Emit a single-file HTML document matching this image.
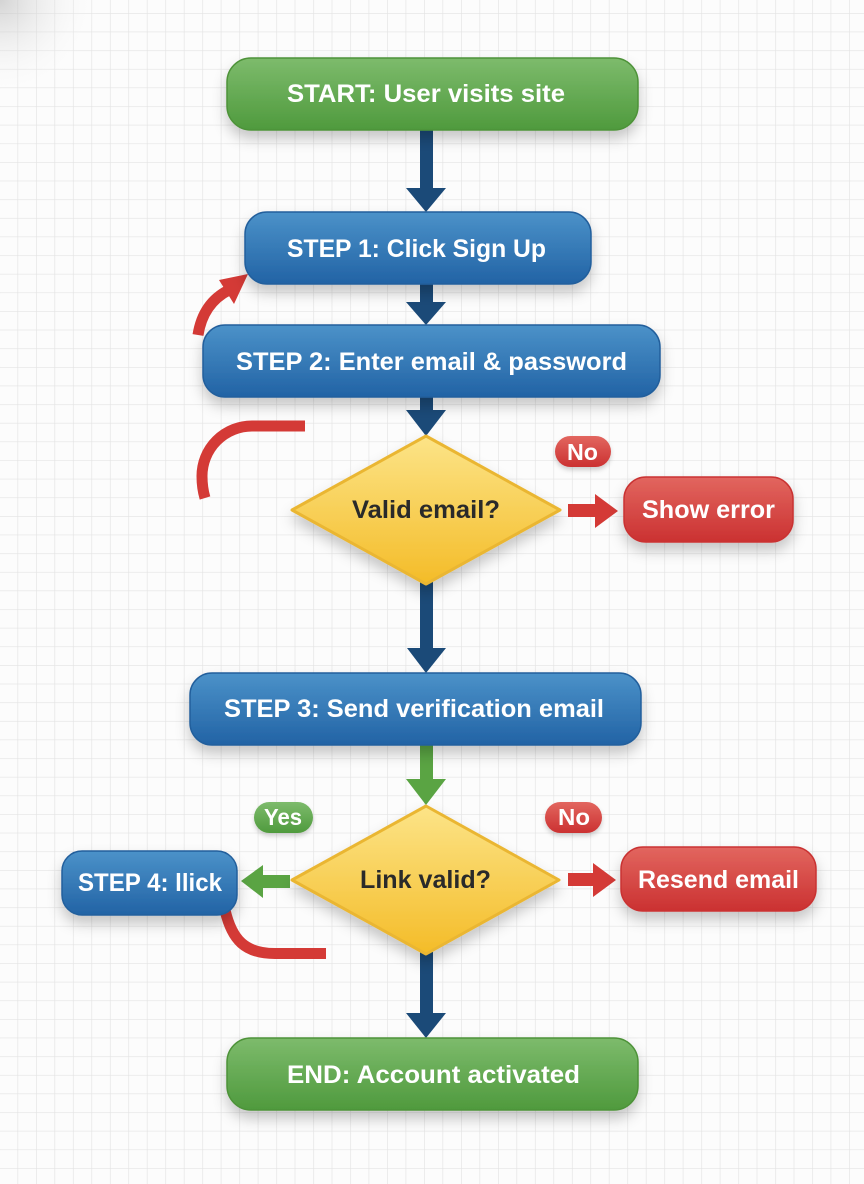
<!DOCTYPE html>
<html><head><meta charset="utf-8"><style>
html,body{margin:0;padding:0;background:#fbfbfb;}
svg{display:block;}
text{font-family:"Liberation Sans",Arial,sans-serif;font-weight:bold;}
</style></head><body>
<svg width="864" height="1184" viewBox="0 0 864 1184" xmlns="http://www.w3.org/2000/svg">
<defs>
<pattern id="grid" x="17.5" y="13" width="18.48" height="18.63" patternUnits="userSpaceOnUse">
<path d="M0,0 V18.63 M0,0 H18.48" stroke="#e3e3e3" stroke-width="1.3" fill="none"/>
</pattern>
<radialGradient id="vig" cx="0" cy="0" r="100" gradientUnits="userSpaceOnUse">
<stop offset="0" stop-color="#b8b8b8" stop-opacity="0.6"/>
<stop offset="1" stop-color="#ffffff" stop-opacity="0"/>
</radialGradient>
<linearGradient id="gGreen" x1="0" y1="0" x2="0" y2="1">
<stop offset="0" stop-color="#7dbb6c"/><stop offset="1" stop-color="#4f9a3d"/>
</linearGradient>
<linearGradient id="gBlue" x1="0" y1="0" x2="0" y2="1">
<stop offset="0" stop-color="#4b92c9"/><stop offset="1" stop-color="#2263a5"/>
</linearGradient>
<linearGradient id="gRed" x1="0" y1="0" x2="0" y2="1">
<stop offset="0" stop-color="#e2665f"/><stop offset="1" stop-color="#cb3131"/>
</linearGradient>
<linearGradient id="gYel" x1="0" y1="0" x2="0" y2="1">
<stop offset="0" stop-color="#fce488"/><stop offset="1" stop-color="#f4bc28"/>
</linearGradient>
<filter id="sh" x="-20%" y="-30%" width="140%" height="180%">
<feDropShadow dx="0" dy="8" stdDeviation="7" flood-color="#000" flood-opacity="0.22"/>
</filter>
<filter id="shs" x="-20%" y="-30%" width="140%" height="180%">
<feDropShadow dx="0" dy="3" stdDeviation="2.5" flood-color="#000" flood-opacity="0.18"/>
</filter>
</defs>

<rect width="864" height="1184" fill="#fcfcfc"/>
<rect width="864" height="1184" fill="url(#grid)"/>
<rect width="864" height="1184" fill="url(#vig)"/>

<!-- navy connectors -->
<g fill="#1b4a78">
<rect x="420" y="128" width="13" height="62"/><polygon points="406,188 446,188 426,212"/>
<rect x="420" y="282" width="13" height="22"/><polygon points="406,302 446,302 426,325"/>
<rect x="420" y="395" width="13" height="17"/><polygon points="406,410 446,410 426,436"/>
<rect x="420" y="582" width="13" height="68"/><polygon points="407,648 446,648 426,673"/>
<rect x="420" y="952" width="13" height="63"/><polygon points="406,1013 446,1013 426,1038"/>
</g>
<!-- green connector -->
<g fill="#5aa443">
<rect x="420" y="743" width="13" height="38"/><polygon points="406,779 446,779 426,805"/>
<rect x="261" y="875" width="29" height="13"/><polygon points="263,865 263,898 241,881"/>
</g>
<!-- red connectors -->
<g fill="#d43a36">
<rect x="568" y="504" width="29" height="13"/><polygon points="595,494 595,528 618,511"/>
<rect x="568" y="873" width="27" height="13"/><polygon points="593,863 593,897 616,880"/>
<polygon points="219,280 248,274 234,304"/>
</g>
<g fill="none" stroke="#d43a36" stroke-width="11">
<path d="M305,426 L252,426 A50,50 0 0 0 202,476 Q202,488 205,498"/>
<path d="M225,910 C232,940 245,953.5 275,953.5 L326,953.5"/>
<path d="M198,335 Q203,303 229,290"/>
</g>

<!-- boxes -->
<g filter="url(#sh)">
<rect x="227" y="58" width="411" height="72" rx="24" fill="url(#gGreen)" stroke="#4d9239" stroke-width="1.5"/>
<rect x="245" y="212" width="346" height="72" rx="22" fill="url(#gBlue)" stroke="#235f9c" stroke-width="1.5"/>
<rect x="203" y="325" width="457" height="72" rx="22" fill="url(#gBlue)" stroke="#235f9c" stroke-width="1.5"/>
<polygon points="426,436 560,510 426,584 292,510" fill="url(#gYel)" stroke="#eab631" stroke-width="3" stroke-linejoin="round"/>
<rect x="624" y="477" width="169" height="65" rx="22" fill="url(#gRed)" stroke="#c93332" stroke-width="1.5"/>
<rect x="190" y="673" width="451" height="72" rx="22" fill="url(#gBlue)" stroke="#235f9c" stroke-width="1.5"/>
<polygon points="426,806 559,880 426,954 292,880" fill="url(#gYel)" stroke="#eab631" stroke-width="3" stroke-linejoin="round"/>
<rect x="62" y="851" width="175" height="64" rx="20" fill="url(#gBlue)" stroke="#235f9c" stroke-width="1.5"/>
<rect x="621" y="847" width="195" height="64" rx="22" fill="url(#gRed)" stroke="#c93332" stroke-width="1.5"/>
<rect x="227" y="1038" width="411" height="72" rx="24" fill="url(#gGreen)" stroke="#4d9239" stroke-width="1.5"/>
</g>
<g filter="url(#shs)">
<rect x="555" y="436" width="56" height="31" rx="15.5" fill="url(#gRed)"/>
<rect x="254" y="802" width="59" height="31" rx="15.5" fill="url(#gGreen)"/>
<rect x="545" y="802" width="57" height="31" rx="15.5" fill="url(#gRed)"/>
</g>

<!-- labels -->
<g fill="#ffffff" font-size="25">
<text x="287" y="102" textLength="278" lengthAdjust="spacingAndGlyphs">START: User visits site</text>
<text x="287" y="257" textLength="259" lengthAdjust="spacingAndGlyphs">STEP 1: Click Sign Up</text>
<text x="236" y="370" textLength="391" lengthAdjust="spacingAndGlyphs">STEP 2: Enter email &amp; password</text>
<text x="642" y="518" textLength="133" lengthAdjust="spacingAndGlyphs">Show error</text>
<text x="224" y="717" textLength="380" lengthAdjust="spacingAndGlyphs">STEP 3: Send verification email</text>
<text x="78" y="891" textLength="144" lengthAdjust="spacingAndGlyphs">STEP 4: llick</text>
<text x="638" y="888" textLength="161" lengthAdjust="spacingAndGlyphs">Resend email</text>
<text x="287" y="1083" textLength="293" lengthAdjust="spacingAndGlyphs">END: Account activated</text>
</g>
<g fill="#ffffff" font-size="23">
<text x="567" y="460" textLength="31" lengthAdjust="spacingAndGlyphs">No</text>
<text x="264" y="825" textLength="38" lengthAdjust="spacingAndGlyphs">Yes</text>
<text x="558" y="825" textLength="32" lengthAdjust="spacingAndGlyphs">No</text>
</g>
<g fill="#2a2a2a" font-size="25">
<text x="352" y="518" textLength="148" lengthAdjust="spacingAndGlyphs">Valid email?</text>
<text x="360" y="888" textLength="131" lengthAdjust="spacingAndGlyphs">Link valid?</text>
</g>
</svg>
</body></html>
